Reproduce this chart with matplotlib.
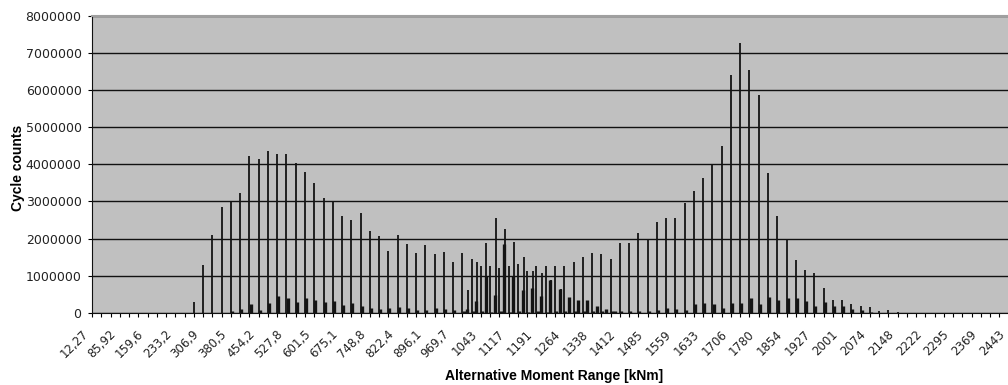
import matplotlib
matplotlib.use("Agg")
import matplotlib.pyplot as plt
import matplotlib.transforms as mtransforms
import numpy as np

# -----------------------------------------------------------
# Data (cycle counts in millions, one value per range bin)
# -----------------------------------------------------------

# labelled bins (every 3rd bin carries a label)
tick_labels = [
    "12,27", "85,92", "159,6", "233,2", "306,9", "380,5", "454,2", "527,8",
    "601,5", "675,1", "748,8", "822,4", "896,1", "969,7", "1043", "1117",
    "1191", "1264", "1338", "1412", "1485", "1559", "1633", "1706", "1780",
    "1854", "1927", "2001", "2074", "2148", "2222", "2295", "2369", "2443",
]
n_bins = 100

# main series (tall thin bars)
main_counts = [
    0, 0, 0, 0, 0, 0, 0, 0, 0, 0,
    0, 0.30, 1.30, 2.10, 2.86, 2.99, 3.24, 4.23, 4.13, 4.35,
    4.27, 4.27, 4.04, 3.80, 3.50, 3.10, 3.00, 2.62, 2.49, 2.68,
    2.20, 2.07, 1.66, 2.11, 1.85, 1.62, 1.84, 1.59, 1.65, 1.36,
    1.62, 1.46, 1.27, 1.27, 1.21, 1.27, 1.33, 1.14, 1.26, 1.26,
    1.27, 1.27, 1.37, 1.50, 1.62, 1.60, 1.44, 1.89, 1.89, 2.14,
    1.99, 2.46, 2.56, 2.56, 2.96, 3.28, 3.62, 4.00, 4.50, 6.40,
    7.25, 6.53, 5.86, 3.76, 2.62, 1.99, 1.43, 1.15, 1.08, 0.66,
    0.34, 0.34, 0.24, 0.18, 0.15, 0.05, 0.09, 0.03, 0, 0,
    0, 0, 0, 0, 0, 0, 0, 0, 0, 0,
]

# second series (short thick bars next to the main ones)
side_counts = [
    0, 0, 0, 0, 0, 0, 0, 0, 0, 0,
    0, 0, 0, 0, 0, 0.05, 0.10, 0.23, 0.07, 0.27,
    0.46, 0.40, 0.30, 0.40, 0.35, 0.30, 0.31, 0.21, 0.26, 0.20,
    0.14, 0.11, 0.14, 0.15, 0.14, 0.08, 0.07, 0.14, 0.10, 0.08,
    0.05, 0.05, 0.06, 0.04, 0.05, 0.04, 0.05, 0.04, 0.05, 0.04,
    0.05, 0.06, 0.05, 0.06, 0.05, 0.06, 0.05, 0.05, 0.06, 0.05,
    0.06, 0.08, 0.14, 0.10, 0.09, 0.23, 0.27, 0.23, 0.14, 0.27,
    0.27, 0.40, 0.23, 0.43, 0.34, 0.40, 0.40, 0.31, 0.20, 0.30,
    0.18, 0.18, 0.11, 0.07, 0.04, 0, 0, 0, 0, 0,
    0, 0, 0, 0, 0, 0, 0, 0, 0, 0,
]

# extra bars between bins in the middle of the range
mid_start = 40
mid_thin_counts = [0.63, 1.36, 1.88, 2.55, 2.26, 1.92, 1.50, 1.14, 1.07, 0.88, 0.65]
mid_thick_counts = [0.10, 0.31, 1.00, 0.49, 1.85, 1.00, 0.63, 0.67, 0.46, 0.90,
                    0.65, 0.42, 0.36, 0.36, 0.20, 0.10, 0.05]

# -----------------------------------------------------------
# Plot
# -----------------------------------------------------------

fig = plt.figure(figsize=(10.08, 3.85), dpi=100)
ax = fig.add_axes([92 / 1008, 72 / 385, 926 / 1008, 297.5 / 385])
ax.set_facecolor("#c0c0c0")

x = np.arange(n_bins)
scale = 1e6
bar_col = "#141414"
ax.vlines(x, 0, np.array(main_counts) * scale, color=bar_col, linewidth=1.3, zorder=3)
ax.vlines(x + 0.12, 0, np.array(side_counts) * scale, color=bar_col, linewidth=2.4, zorder=3)

xm = np.arange(len(mid_thin_counts)) + mid_start + 0.6
ax.vlines(xm, 0, np.array(mid_thin_counts) * scale, color=bar_col, linewidth=1.3, zorder=3)
xk = np.arange(len(mid_thick_counts)) + mid_start + 0.5
ax.vlines(xk, 0, np.array(mid_thick_counts) * scale, color=bar_col, linewidth=2.4, zorder=3)

ax.set_xlim(0, n_bins)
ax.set_ylim(0, 8e6)
ax.set_yticks(np.arange(0, 8e6 + 1, 1e6))
ax.set_yticklabels([f"{int(v)}" for v in np.arange(0, 8e6 + 1, 1e6)],
                   fontsize=9, family="DejaVu Sans", color="#222222")
ax.yaxis.grid(True, color="#111111", linewidth=1.0)
ax.set_axisbelow(True)

ax.set_xticks(np.arange(0, n_bins, 3))
ax.set_xticks(np.arange(n_bins), minor=True)
ax.set_xticklabels(tick_labels, rotation=45, ha="right", va="center",
                   rotation_mode="anchor", fontsize=8.5, family="DejaVu Sans",
                   color="#222222")
ax.tick_params(axis="x", which="both", length=3, width=0.8, pad=11, direction="out")
ax.tick_params(axis="y", length=3, width=0.8, pad=4.5)

# shift the slanted labels a bit to the left like the original
shift = mtransforms.ScaledTranslation(-6 / 100, 0, fig.dpi_scale_trans)
for lbl in ax.get_xticklabels():
    lbl.set_transform(lbl.get_transform() + shift)

ax.spines["right"].set_visible(False)
ax.spines["top"].set_color("#a0a0a0")
ax.spines["top"].set_linewidth(1.5)
ax.spines["left"].set_color("#111111")
ax.spines["bottom"].set_color("#111111")

fig.text(18 / 1008, 1 - 168 / 385, "Cycle counts", rotation=90,
         ha="center", va="center", fontsize=10, fontweight="bold",
         family="Liberation Sans")
fig.text(554 / 1008, 1 - 376 / 385, "Alternative Moment Range [kNm]",
         ha="center", va="center", fontsize=10, fontweight="bold",
         family="Liberation Sans")

fig.savefig("out.png", dpi=100)
